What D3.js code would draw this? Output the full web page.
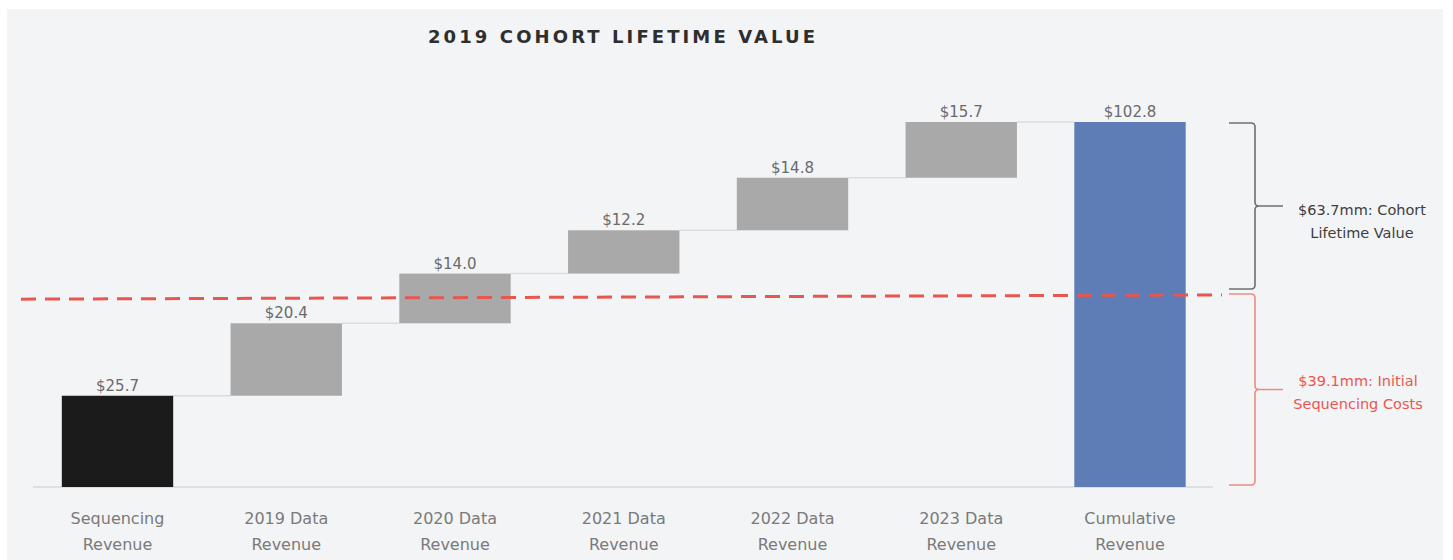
<!DOCTYPE html>
<html>
<head>
<meta charset="utf-8">
<script src="https://cdn.jsdelivr.net/npm/d3@7"></script>
<style>
  html, body { margin: 0; padding: 0; background: #fff; }
  svg { display: block; font-family: "DejaVu Sans", sans-serif; }
</style>
</head>
<body>
<div id="chart"></div>
<script>
// waterfall data ($mm)
const categories = [
  ["Sequencing", "Revenue"],
  ["2019 Data", "Revenue"],
  ["2020 Data", "Revenue"],
  ["2021 Data", "Revenue"],
  ["2022 Data", "Revenue"],
  ["2023 Data", "Revenue"],
  ["Cumulative", "Revenue"]
];
const steps = [25.7, 20.4, 14.0, 12.2, 14.8, 15.7];
const total = 102.8;
const valueLabels = ["$25.7", "$20.4", "$14.0", "$12.2", "$14.8", "$15.7", "$102.8"];

// annotation: the source draws the cost line off-scale, slightly tilted
const costLineLevel = [52.9, 54.1];
const bracketNotes = [
  ["$63.7mm: Cohort", "Lifetime Value"],
  ["$39.1mm: Initial", "Sequencing Costs"]
];

const width = 1453, height = 560;
const panel = { x: 7, y: 9, w: 1436, h: 551 };

const svg = d3.select('#chart').append('svg')
    .attr('width', width)
    .attr('height', height);

svg.append('rect')
    .attr('x', panel.x).attr('y', panel.y)
    .attr('width', panel.w).attr('height', panel.h)
    .attr('fill', '#f3f4f6');

const x = d3.scalePoint()
    .domain(d3.range(categories.length))
    .range([117.5, 1130]);
const barW = x.step() * 0.66;

const y = d3.scaleLinear()
    .domain([0, total])
    .range([487, 122]);

// build running bars
let run = 0;
const bars = steps.map((v, i) => {
  const b = { i, y0: run, y1: run + v, kind: i === 0 ? 'start' : 'step' };
  run += v;
  return b;
});
bars.push({ i: steps.length, y0: 0, y1: total, kind: 'total' });

const fills = { start: '#1b1b1b', step: '#a9a9a9', total: '#5e7cb6' };

// title
svg.append('text')
    .attr('x', 428).attr('y', 43)
    .attr('fill', '#2e2e2e')
    .attr('font-size', 18)
    .attr('font-weight', 'bold')
    .attr('letter-spacing', 3.1)
    .text('2019 COHORT LIFETIME VALUE');

// baseline
svg.append('line')
    .attr('x1', 33).attr('x2', 1213)
    .attr('y1', y(0)).attr('y2', y(0))
    .attr('stroke', '#d6d8db').attr('stroke-width', 1.5);

// connectors
svg.append('g').selectAll('line')
  .data(bars.slice(0, -1))
  .join('line')
    .attr('x1', d => x(d.i) + barW / 2)
    .attr('x2', d => x(d.i + 1) - barW / 2)
    .attr('y1', d => y(d.y1))
    .attr('y2', d => y(d.y1))
    .attr('stroke', '#dadcdf').attr('stroke-width', 1.5);

// bars
svg.append('g').selectAll('rect')
  .data(bars)
  .join('rect')
    .attr('x', d => x(d.i) - barW / 2)
    .attr('y', d => y(d.y1))
    .attr('width', barW)
    .attr('height', d => y(d.y0) - y(d.y1))
    .attr('fill', d => fills[d.kind]);

// value labels
svg.append('g').selectAll('text')
  .data(bars)
  .join('text')
    .attr('x', d => x(d.i))
    .attr('y', d => y(d.y1) - 5)
    .attr('text-anchor', 'middle')
    .attr('font-size', 15)
    .attr('fill', '#6a6a6a')
    .text((d, i) => valueLabels[i]);

// category labels
const cat = svg.append('g').selectAll('text')
  .data(categories)
  .join('text')
    .attr('text-anchor', 'middle')
    .attr('font-size', 16)
    .attr('fill', '#7a7a7a');
cat.selectAll('tspan')
  .data((d, i) => d.map(s => ({ s, i })))
  .join('tspan')
    .attr('x', d => x(d.i))
    .attr('y', (d, j) => 524 + j * 26)
    .text(d => d.s);

// red dashed cost line
svg.append('line')
    .attr('x1', 21).attr('x2', 1222)
    .attr('y1', y(costLineLevel[0]))
    .attr('y2', y(costLineLevel[1]))
    .attr('stroke', '#e8574f')
    .attr('stroke-width', 3)
    .attr('stroke-dasharray', '15 9');

// brackets
function bracket(top, bottom, color) {
  const xa = 1229, xv = 1255, xt = 1283, r = 4;
  const mid = (top + bottom) / 2;
  const p = d3.path();
  p.moveTo(xa, top);
  p.lineTo(xv - r, top);
  p.quadraticCurveTo(xv, top, xv, top + r);
  p.lineTo(xv, mid - r);
  p.quadraticCurveTo(xv, mid, xv + r, mid);
  p.lineTo(xt, mid);
  p.moveTo(xv + r, mid);
  p.quadraticCurveTo(xv, mid, xv, mid + r);
  p.lineTo(xv, bottom - r);
  p.quadraticCurveTo(xv, bottom, xv - r, bottom);
  p.lineTo(xa, bottom);
  svg.append('path')
      .attr('d', p.toString())
      .attr('fill', 'none')
      .attr('stroke', color)
      .attr('stroke-width', 1.6);
  return mid;
}

const costY = y(d3.mean(costLineLevel));
const midA = bracket(y(total) + 1, costY - 8, '#6f6f6f');
const midB = bracket(costY - 3, y(0) - 2, '#ee8a84');

const noteColors = ['#3e3e3e', '#e8574f'];
const noteMid = [midA, midB];
const noteDy = [9, -4];
const noteCx = [1362, 1358];
bracketNotes.forEach((lines, k) => {
  svg.append('text')
      .attr('text-anchor', 'middle')
      .attr('font-size', 14.5)
      .attr('fill', noteColors[k])
    .selectAll('tspan')
    .data(lines)
    .join('tspan')
      .attr('x', noteCx[k])
      .attr('y', (d, j) => noteMid[k] + noteDy[k] + j * 23)
      .text(d => d);
});
</script>
</body>
</html>
